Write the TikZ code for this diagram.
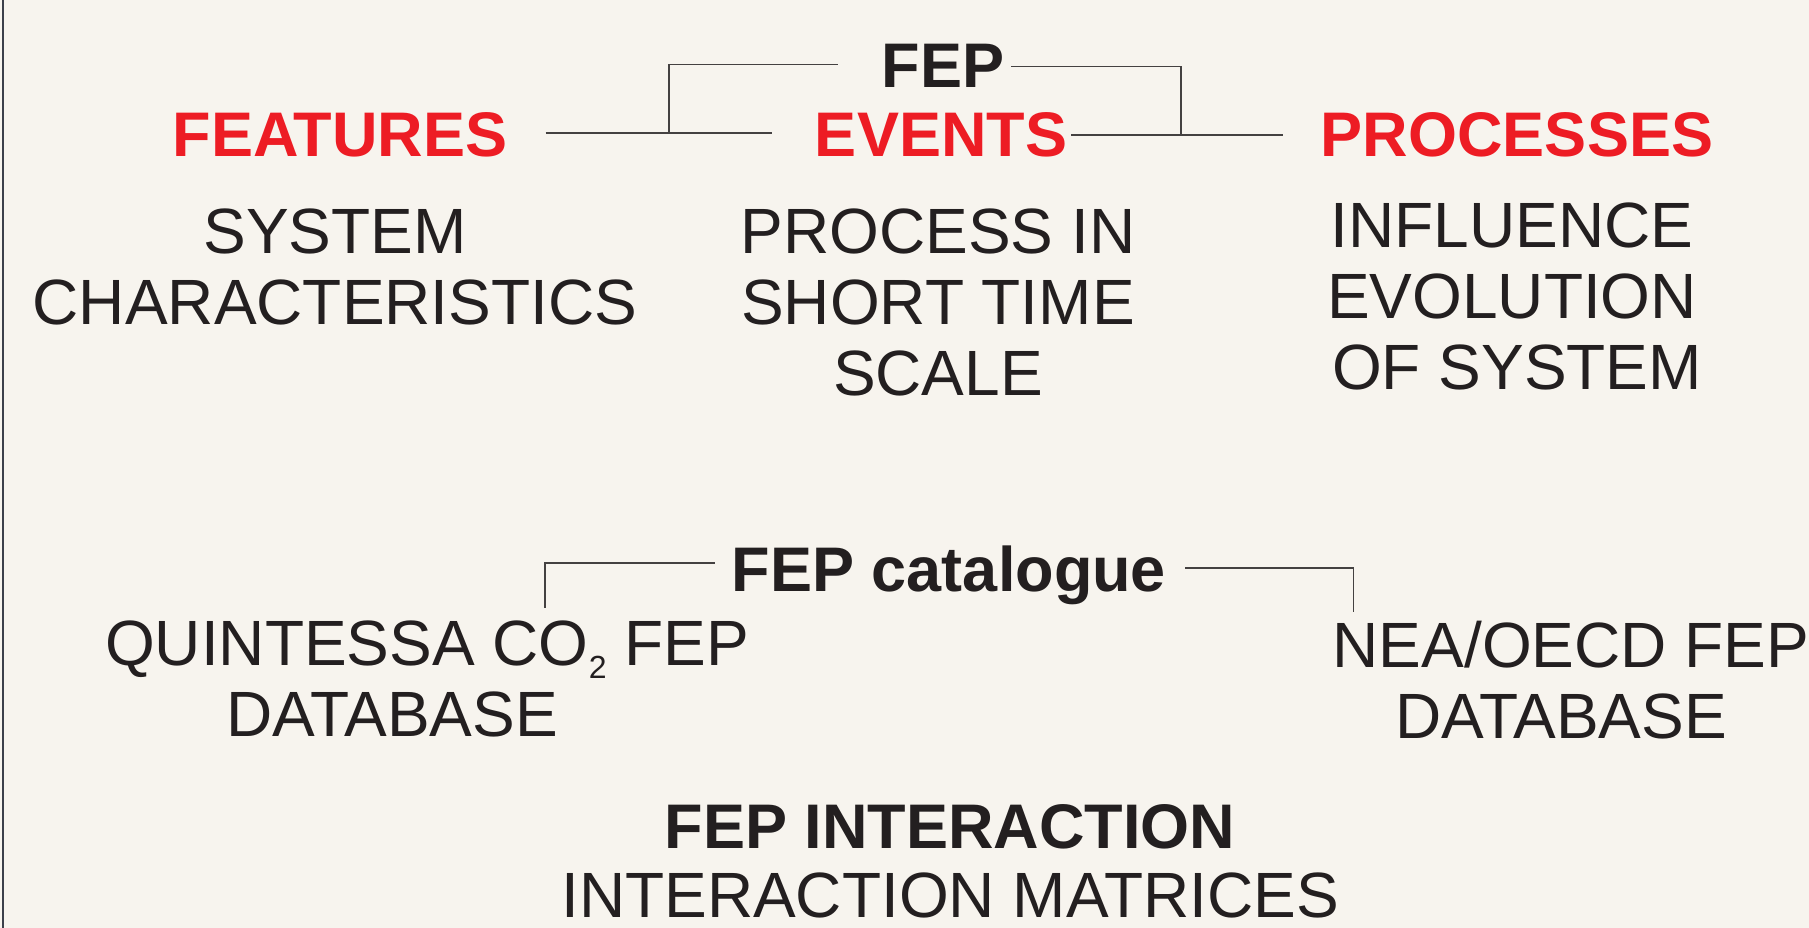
\documentclass[tikz,border=0pt]{standalone}
\usepackage{fontspec}
\setmainfont{Liberation Sans}
\definecolor{fepred}{HTML}{ED1C24}
\definecolor{ink}{HTML}{231F20}
\definecolor{paper}{HTML}{F7F4EE}
\definecolor{rim}{HTML}{3C404A}

\begin{document}
\begin{tikzpicture}[x=1pt,y=-1pt]
\tikzstyle{head}=[inner sep=0, anchor=base, text depth=0pt, text=ink, font=\fontsize{63}{63}\selectfont\bfseries]
\tikzstyle{kind}=[head, text=fepred]
\tikzstyle{desc}=[inner sep=0, anchor=north, align=center, text=ink, font=\fontsize{64}{71}\selectfont]
\tikzstyle{link}=[draw=ink!85, line width=1.5pt]

\fill[paper] (0,0) rectangle (1809,928);
\useasboundingbox (0,0) rectangle (1809,928);
\draw[rim, line width=2pt] (2.5,0) -- (2.5,928);

% F, E and P
\node[head] (fep) at (943,88) {FEP};
\node[kind] (features) at (340,157) {FEATURES};
\node[kind] (events) at (941,157) {EVENTS};
\node[kind] (processes) at (1517,157) {PROCESSES};
\node[desc] (featdesc) at (335,209) {SYSTEM\\CHARACTERISTICS};
\node[desc] (evdesc) at (938,209) {PROCESS IN\\SHORT TIME\\SCALE};
\node[desc] (procdesc) at (1512,203) {INFLUENCE\\EVOLUTION\\\hspace*{10pt}OF SYSTEM};

\coordinate (jl) at (669,132.5);
\coordinate (jr) at (1181,134.5);
\draw[link] ([xshift=38pt,yshift=2pt]features.east) -- ([xshift=-43pt,yshift=2pt]events.west);
\draw[link] ([xshift=4pt]events.east) -- ([xshift=-38pt]processes.west);
\draw[link] ([xshift=-44pt,yshift=2pt]fep.west) -| (jl);
\draw[link] ([xshift=7pt]fep.east) -| (jr);

% catalogues
\node[head] (catalogue) at (949,591) {FEP catalogue};
\node[desc] (quintessa) at (427,621) {QUINTESSA CO\raisebox{-13pt}{\fontsize{32}{32}\selectfont 2} FEP\\DATABASE\hspace*{70pt}};
\node[desc] (nea) at (1571,621) {NEA/OECD FEP\\DATABASE\hspace*{20pt}};

\draw[link] ([xshift=-17pt,yshift=5pt]catalogue.west) -| ([xshift=118pt,yshift=13pt]quintessa.north);
\draw[link] ([xshift=19pt]catalogue.east) -| ([xshift=21pt,yshift=9pt]nea.north west);

% interactions
\node[head] (interaction) at (950,848) {FEP INTERACTION};
\node[desc, anchor=base] (matrices) at (950,917) {INTERACTION MATRICES};
\end{tikzpicture}
\end{document}
